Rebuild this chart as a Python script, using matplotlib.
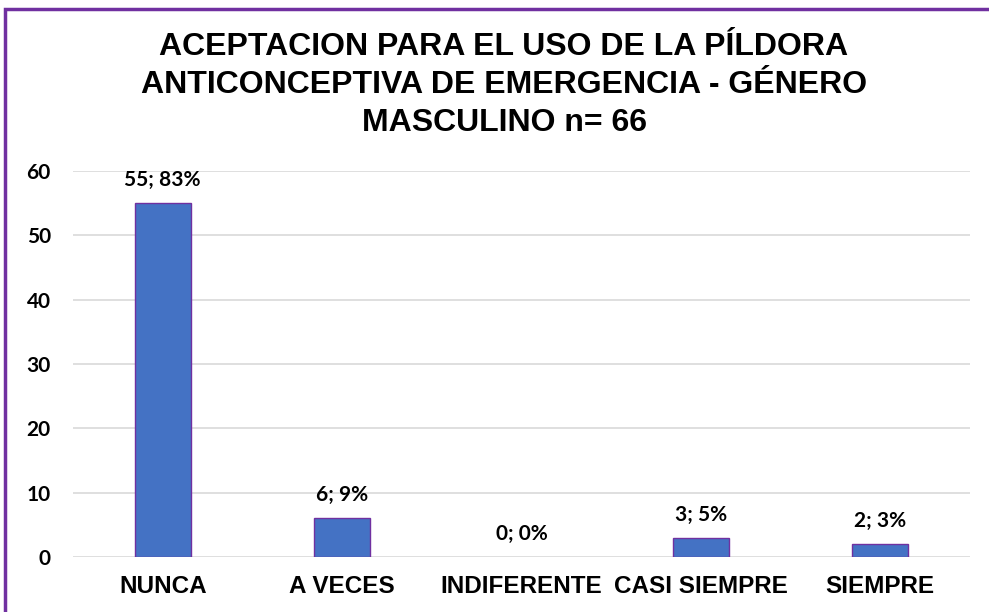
import matplotlib
matplotlib.use("Agg")
import matplotlib.pyplot as plt
from matplotlib.patches import Rectangle

categories = ["NUNCA", "A VECES", "INDIFERENTE", "CASI SIEMPRE", "SIEMPRE"]
counts = [55, 6, 0, 3, 2]
percents = ["83%", "9%", "0%", "5%", "3%"]
yticks = [0, 10, 20, 30, 40, 50, 60]
title = "ACEPTACION PARA EL USO DE LA PÍLDORA\nANTICONCEPTIVA DE EMERGENCIA - GÉNERO\nMASCULINO n= 66"

fig = plt.figure(figsize=(9.89, 6.12), dpi=100)
fig.patch.set_facecolor("white")

# purple frame (left and top visible)
fig.patches.append(Rectangle((5/989, -0.2), 1.2, 1 - 9/612 + 0.2, transform=fig.transFigure,
                             fill=False, edgecolor="#7030A0", linewidth=2.5, zorder=0))

ax = fig.add_axes([73/989, 1 - 557/612, (970 - 73)/989, (557 - 171)/612])
x = list(range(len(categories)))
edge_widths = [1.0 if c > 0 else 0.0 for c in counts]
ax.bar(x, counts, width=0.31, color="#4472C4", edgecolor="#7030A0", linewidth=edge_widths, zorder=3)
ax.set_xlim(-0.5, len(categories) - 0.5)
ax.set_ylim(0, 60)
ax.set_yticks(yticks)
ax.set_yticklabels([str(v) for v in yticks], fontsize=15, fontweight="bold", family="Lato")
ax.set_xticks(x)
ax.set_xticklabels(categories, fontsize=17.5, fontweight="bold", family="Liberation Sans")
ax.tick_params(axis="y", length=0, pad=16)
ax.tick_params(axis="x", length=0, pad=13)
ax.grid(axis="y", color="#D9D9D9", linewidth=1.2, zorder=0)
for s in ax.spines.values():
    s.set_visible(False)
ax.set_facecolor("white")

for xi, c, p in zip(x, counts, percents):
    ax.annotate(f"{c}; {p}", (xi, c), xytext=(0, 12.2), textcoords="offset points",
                ha="center", va="baseline", fontsize=15, fontweight="bold", family="Lato")

fig.text(504/989, 1 - 85/612, title, ha="center", va="center", fontsize=23, fontweight="bold",
         family="Liberation Sans", linespacing=1.33, multialignment="center")

fig.savefig("out.png", dpi=100)
